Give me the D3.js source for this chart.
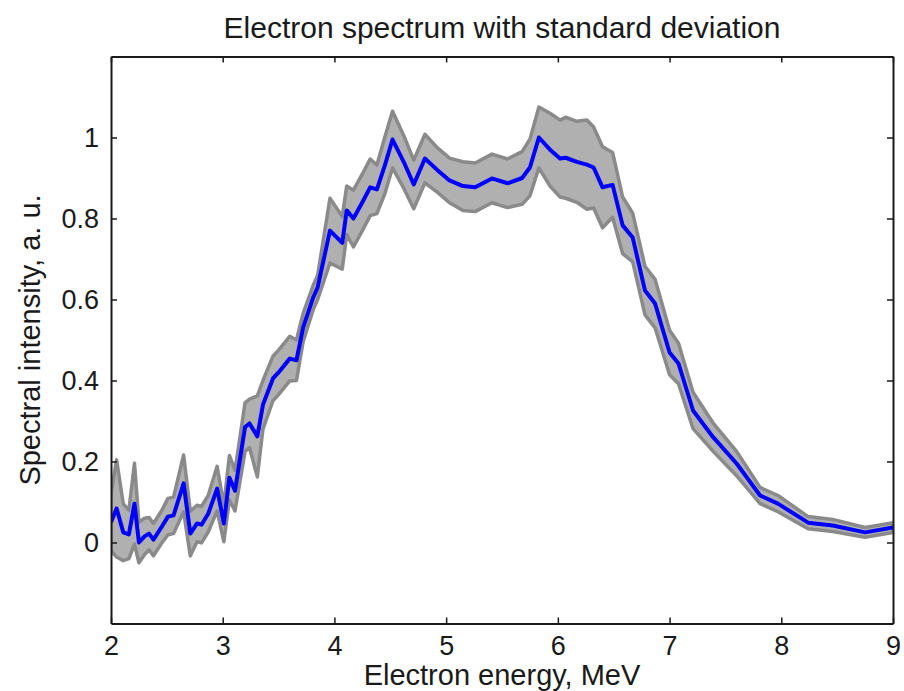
<!DOCTYPE html>
<html>
<head>
<meta charset="utf-8">
<script src="https://cdn.jsdelivr.net/npm/d3@7"></script>
<style>
  html, body { margin: 0; padding: 0; background: #fff; }
  svg { display: block; }
  text { font-family: "Liberation Sans", Arial, Helvetica, sans-serif; fill: #1a1a1a; }
</style>
</head>
<body>
<svg id="chart" width="904" height="691"></svg>
<script>
// ---- data ----
const energy = [2.00,2.05,2.11,2.16,2.21,2.25,2.30,2.34,2.38,2.45,2.51,2.56,2.65,2.71,2.77,2.81,2.87,2.95,3.01,3.06,3.11,3.20,3.24,3.31,3.36,3.45,3.50,3.60,3.66,3.72,3.81,3.85,3.96,4.07,4.11,4.17,4.25,4.32,4.38,4.45,4.52,4.62,4.71,4.81,4.92,5.03,5.15,5.26,5.41,5.55,5.68,5.75,5.83,5.93,6.02,6.07,6.17,6.26,6.32,6.40,6.49,6.58,6.67,6.78,6.87,7.00,7.08,7.21,7.39,7.60,7.81,7.97,8.24,8.46,8.75,9.00];
const meanIntensity = [0.05,0.084,0.025,0.02,0.096,0.00,0.015,0.022,0.007,0.037,0.064,0.067,0.146,0.022,0.047,0.044,0.071,0.133,0.047,0.16,0.128,0.285,0.294,0.262,0.34,0.405,0.42,0.454,0.45,0.531,0.605,0.63,0.77,0.74,0.82,0.80,0.84,0.877,0.872,0.93,0.995,0.94,0.884,0.948,0.92,0.894,0.88,0.877,0.899,0.887,0.90,0.926,1.0,0.97,0.948,0.95,0.94,0.933,0.926,0.877,0.883,0.783,0.753,0.622,0.59,0.469,0.442,0.326,0.26,0.195,0.116,0.096,0.049,0.042,0.025,0.037];
const stdDev = [0.07,0.12,0.07,0.06,0.10,0.05,0.045,0.04,0.04,0.04,0.045,0.045,0.07,0.055,0.045,0.045,0.045,0.055,0.045,0.055,0.05,0.06,0.06,0.10,0.06,0.055,0.055,0.055,0.05,0.035,0.03,0.03,0.08,0.065,0.06,0.07,0.07,0.07,0.06,0.07,0.07,0.065,0.06,0.06,0.055,0.055,0.06,0.06,0.06,0.06,0.065,0.07,0.075,0.09,0.095,0.10,0.10,0.11,0.10,0.10,0.08,0.07,0.06,0.06,0.06,0.055,0.05,0.045,0.035,0.03,0.02,0.02,0.015,0.015,0.012,0.012];
const xTicks = [2,3,4,5,6,7,8,9];
const yTicks = [0,0.2,0.4,0.6,0.8,1];
const titleText = "Electron spectrum with standard deviation";
const xLabel = "Electron energy, MeV";
const yLabel = "Spectral intensity, a. u.";

// ---- layout ----
const margin = {left: 111, right: 11, top: 56.5, bottom: 67.5};
const W = 904, H = 691;
const svg = d3.select("#chart");
const x = d3.scaleLinear().domain([2, 9]).range([margin.left, W - margin.right]);
const y = d3.scaleLinear().domain([-0.2, 1.2]).range([H - margin.bottom, margin.top]);

const data = energy.map((e, i) => ({e, m: meanIntensity[i], s: stdDev[i]}));

svg.append("clipPath").attr("id", "clip").append("rect")
  .attr("x", x(2)).attr("y", y(1.2)).attr("width", x(9) - x(2)).attr("height", y(-0.2) - y(1.2));

const g = svg.append("g").attr("clip-path", "url(#clip)");

const area = d3.area().x(d => x(d.e)).y0(d => y(d.m - d.s)).y1(d => y(d.m + d.s));
g.append("path").datum(data).attr("d", area)
  .attr("fill", "#b0b0b0").attr("stroke", "#8a8a8a").attr("stroke-width", 3.5).attr("stroke-linejoin", "round");

const line = d3.line().x(d => x(d.e)).y(d => y(d.m));
g.append("path").datum(data).attr("d", line)
  .attr("fill", "none").attr("stroke", "#0000ff").attr("stroke-width", 4).attr("stroke-linejoin", "round");

// axes (ticks inward on all four sides)
const tickLen = 6;
const fs = 27;
const axB = svg.append("g").attr("transform", `translate(0,${y(-0.2)})`)
  .call(d3.axisBottom(x).tickValues(xTicks).tickSizeInner(-tickLen).tickSizeOuter(0).tickPadding(12).tickFormat(d3.format("d")));
const axT = svg.append("g").attr("transform", `translate(0,${y(1.2)})`)
  .call(d3.axisTop(x).tickValues(xTicks).tickSizeInner(-tickLen).tickSizeOuter(0).tickFormat(""));
const axL = svg.append("g").attr("transform", `translate(${x(2)},0)`)
  .call(d3.axisLeft(y).tickValues(yTicks).tickSizeInner(-tickLen).tickSizeOuter(0).tickPadding(12).tickFormat(d => d === 0 ? "0" : d === 1 ? "1" : d3.format(".1f")(d)));
const axR = svg.append("g").attr("transform", `translate(${x(9)},0)`)
  .call(d3.axisRight(y).tickValues(yTicks).tickSizeInner(-tickLen).tickSizeOuter(0).tickFormat(""));

[axB, axT, axL, axR].forEach(a => {
  a.select(".domain").attr("stroke", "#1a1a1a").attr("stroke-width", 2);
  a.selectAll(".tick line").attr("stroke", "#1a1a1a").attr("stroke-width", 1.5);
  a.selectAll(".tick text").attr("font-size", fs).attr("font-family", "'Liberation Sans', Arial, sans-serif").attr("fill", "#1a1a1a");
});
axB.selectAll(".tick text").attr("dy", "0.71em");

// title and labels
svg.append("text").attr("x", (x(2) + x(9)) / 2).attr("y", 38)
  .attr("text-anchor", "middle").attr("font-size", 30).text(titleText);
svg.append("text").attr("x", (x(2) + x(9)) / 2).attr("y", 685)
  .attr("text-anchor", "middle").attr("font-size", 29).text(xLabel);
svg.append("text").attr("transform", `translate(40,${(y(-0.2) + y(1.2)) / 2}) rotate(-90)`)
  .attr("text-anchor", "middle").attr("font-size", 29).text(yLabel);
</script>
</body>
</html>
